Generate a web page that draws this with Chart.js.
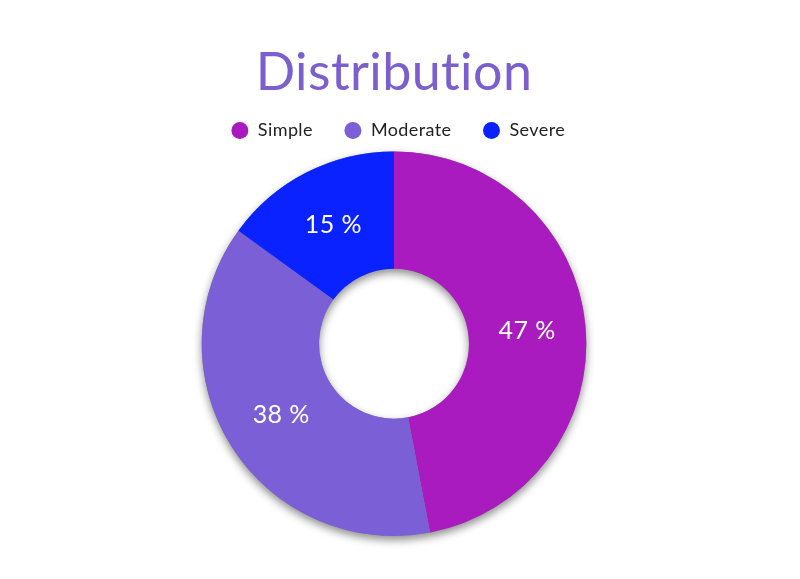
<!DOCTYPE html>
<html>
<head>
<meta charset="utf-8">
<script src="https://cdn.jsdelivr.net/npm/chart.js@4"></script>
<style>
html,body{margin:0;padding:0;background:#fff;}
#wrap{width:800px;height:579px;}
</style>
</head>
<body>
<div id="wrap"><canvas id="c" width="800" height="579"></canvas></div>
<script>
const categories = ['Simple', 'Moderate', 'Severe'];
const values = [47, 38, 15];
const colors = ['#a91bbf', '#7b5fd6', '#0a22ff'];
const titleText = 'Distribution';

const noLigatures = {
  id: 'noLigatures',
  beforeDraw(chart) {
    try { chart.ctx.letterSpacing = '0.4px'; } catch (e) {}
  }
};

const ringShadow = {
  id: 'ringShadow',
  beforeDatasetsDraw(chart) {
    const meta = chart.getDatasetMeta(0);
    const a = meta.data[0];
    if (!a) return;
    const ctx = chart.ctx;
    ctx.save();
    ctx.shadowColor = 'rgba(0,0,0,0.45)';
    ctx.shadowBlur = 8;
    ctx.shadowOffsetY = 4;
    ctx.fillStyle = '#888';
    ctx.beginPath();
    ctx.arc(a.x, a.y, a.outerRadius, 0, Math.PI * 2, false);
    ctx.arc(a.x, a.y, a.innerRadius, 0, Math.PI * 2, true);
    ctx.closePath();
    ctx.fill();
    ctx.restore();
  }
};

const sliceLabels = {
  id: 'sliceLabels',
  afterDatasetsDraw(chart) {
    const ctx = chart.ctx;
    const meta = chart.getDatasetMeta(0);
    ctx.save();
    ctx.fillStyle = '#ffffff';
    ctx.font = '25px Lato';
    ctx.textAlign = 'center';
    ctx.textBaseline = 'middle';
    meta.data.forEach((arc, i) => {
      const p = arc.tooltipPosition();
      ctx.fillText(values[i] + ' %', p.x, p.y);
    });
    ctx.restore();
  }
};

const legendExtra = {
  id: 'legendExtra',
  beforeInit(chart) {
    const orig = chart.legend.fit;
    chart.legend.fit = function () {
      orig.call(this);
      this.height = 61;
    };
  }
};

new Chart(document.getElementById('c'), {
  type: 'doughnut',
  data: {
    labels: categories,
    datasets: [{
      data: values,
      backgroundColor: colors,
      borderWidth: 0,
      hoverOffset: 0
    }]
  },
  options: {
    responsive: false,
    animation: false,
    cutout: '39%',
    layout: { padding: { top: 15, bottom: 43, left: 0, right: 12 } },
    plugins: {
      title: {
        display: true,
        text: titleText,
        color: '#7b5fcf',
        font: { family: 'Lato', size: 52, weight: 'normal' },
        padding: { top: 27, bottom: -14 }
      },
      legend: {
        display: true,
        position: 'top',
        labels: {
          usePointStyle: true,
          pointStyle: 'circle',
          boxWidth: 18,
          boxHeight: 12,
          padding: 31,
          color: '#222',
          font: { family: 'Lato', size: 18 }
        }
      },
      tooltip: { enabled: false }
    }
  },
  plugins: [noLigatures, ringShadow, sliceLabels, legendExtra]
});
</script>
</body>
</html>
